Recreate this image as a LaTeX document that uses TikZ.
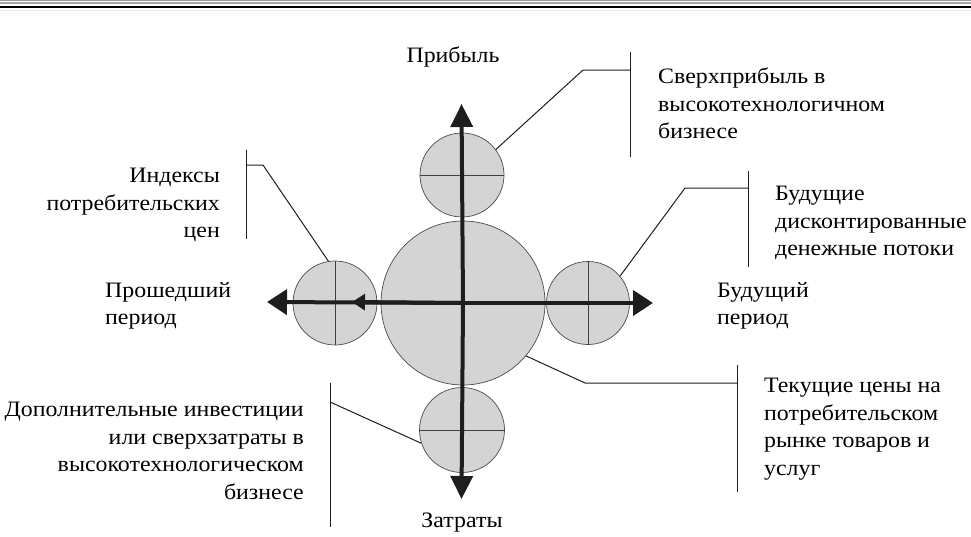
\documentclass[tikz,border=0pt]{standalone}
\usepackage{fontspec}
\setmainfont[FakeStretch=1.085]{Liberation Serif}
\usetikzlibrary{arrows.meta}
\definecolor{fillg}{RGB}{212,212,212}
\definecolor{ink}{RGB}{30,30,30}
\tikzset{
  circ/.style={circle, draw=ink!80, line width=0.7pt, fill=fillg, inner sep=0pt},
  axis/.style={draw=ink, line width=4pt},
  thin/.style={draw=ink!85, line width=0.7pt},
  leader/.style={draw=ink, line width=1pt},
  lbl/.style={inner sep=0pt, text=black, font=\fontsize{22}{27.5}\selectfont},
}
\begin{document}
\begin{tikzpicture}[x=1pt,y=-1pt]
\useasboundingbox (0,0) rectangle (971,536);
% header rules
\draw[gray!80, line width=0.8pt] (0,0.4) -- (971,0.4);
\draw[gray!70, line width=0.6pt] (0,1.9) -- (971,1.9);
\draw[gray!70, line width=0.6pt] (0,3.2) -- (971,3.2);
\draw[black, line width=1.3pt] (0,7) -- (971,7);
\draw[gray!15, line width=0.5pt] (0,10) -- (971,10);

% circles
\node[circ, minimum size=164pt] (big) at (463,303) {};
\node[circ, minimum size=84pt] (tc) at (462,175) {};
\node[circ, minimum size=85pt] (bc) at (462,430) {};
\node[circ, minimum size=84pt] (lc) at (335,303) {};
\node[circ, minimum size=83pt] (rc) at (588,303) {};
\draw[thin] (tc.west) -- (tc.east);
\draw[thin] (bc.west) -- (bc.east);
\draw[thin] (lc.north) -- (lc.south);
\draw[thin] (rc.north) -- (rc.south);

% axes
\coordinate (vtop) at (461.5,104);
\coordinate (vbot) at (461.5,499);
\coordinate (hl) at (267,302);
\coordinate (hr) at (653,303);
\coordinate (hmid) at (352,302);
\draw[axis, -{Triangle[length=23pt,width=22pt]}] (big.center) -- (vtop);
\draw[axis, -{Triangle[length=23pt,width=22pt]}] (big.center) -- (vbot);
\draw[axis, -{Triangle[length=20pt,width=25pt]}] (big.center) -- (hl);
\draw[axis, -{Triangle[length=20pt,width=25pt]}] (big.center) -- (hr);
\draw[axis, -{Triangle[length=13pt,width=16pt]}] (big.center) -- (hmid);

% labels
\node[lbl, anchor=north] (lp) at (453,47) {Прибыль};
\node[lbl, anchor=north] (lz) at (462,513) {Затраты};
\node[lbl, anchor=north west, align=left] (lpast) at (105,282) {Прошедший\\период};
\node[lbl, anchor=north west, align=left] (lfut) at (717,282) {Будущий\\период};

\node[lbl, anchor=north west, align=left] (t1) at (658,68) {Сверхприбыль в\\высокотехнологичном\\бизнесе};
\node[lbl, anchor=north east, align=right] (t2) at (220,168) {Индексы\\потребительских\\цен};
\node[lbl, anchor=north west, align=left] (t3) at (775,186) {Будущие\\дисконтированные\\денежные потоки};
\node[lbl, anchor=north east, align=right] (t4) at (304,402) {Дополнительные инвестиции\\или сверхзатраты в\\высокотехнологическом\\бизнесе};
\node[lbl, anchor=north west, align=left] (t5) at (764,378) {Текущие цены на\\потребительском\\рынке товаров и\\услуг};

% leaders
\coordinate (b1t) at (630.5,52);
\coordinate (b1b) at (630.5,157);
\coordinate (k1) at (583,70);
\coordinate (h1) at (630.5,70);
\draw[leader] (b1t) -- (b1b);
\draw[leader] (tc.37) -- (k1) -- (h1);

\coordinate (b2t) at (246,150);
\coordinate (b2b) at (246,239);
\coordinate (k2) at (263,165);
\coordinate (h2) at (246,165);
\draw[leader] (b2t) -- (b2b);
\draw[leader] (lc.99) -- (k2) -- (h2);

\coordinate (b3t) at (748,171);
\coordinate (b3b) at (748,267);
\coordinate (k3) at (685,188);
\coordinate (h3) at (748,188);
\draw[leader] (b3t) -- (b3b);
\draw[leader] (rc.40) -- (k3) -- (h3);

\coordinate (b4t) at (330,383);
\coordinate (b4b) at (330,527);
\coordinate (h4) at (330,402);
\draw[leader] (b4t) -- (b4b);
\draw[leader] (bc.198) -- (h4);

\coordinate (b5t) at (737,365);
\coordinate (b5b) at (737,492);
\coordinate (k5) at (585,383);
\coordinate (h5) at (737,383);
\draw[leader] (b5t) -- (b5b);
\draw[leader] (big.-40) -- (k5) -- (h5);
\end{tikzpicture}
\end{document}
